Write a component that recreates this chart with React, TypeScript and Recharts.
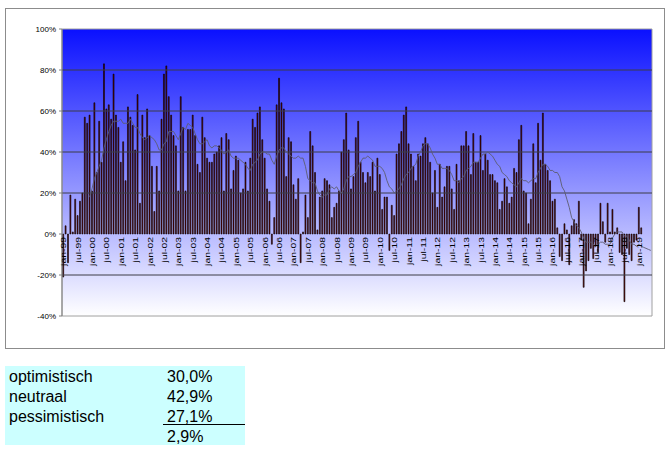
import {
  ComposedChart,
  Bar,
  Line,
  XAxis,
  YAxis,
  ReferenceArea,
  ReferenceLine,
} from "recharts";

// monthly sentiment balance, jan-99 .. mar-19 (percent)
const BALANCE = [
  -21, 4, -14, 19, 1, 17, 9, 16, 20, 57,
  54, 58, 21, 64, 30, 55, 35, 83, 61, 63,
  56, 78, 58, 52, 35, 45, 26, 62, 57, 53,
  41, 68, 15, 58, 47, 61, 48, 33, 11, 33,
  21, 56, 78, 82, 67, 58, 48, 43, 21, 67,
  52, 21, 51, 51, 58, 48, 34, 30, 57, 47,
  37, 35, 35, 39, 40, 43, 47, 21, 49, 46,
  22, 31, 38, 36, 20, 22, 35, 21, 37, 56,
  52, 59, 62, 46, 37, 22, 16, -5, 8, 63,
  76, 64, 61, 28, 47, 45, 24, 17, 27, -14,
  1, 19, 8, 50, 43, 30, 2, 18, 21, 27,
  26, 24, 8, 13, 15, 21, 40, 46, 59, 41,
  22, 28, 47, 55, 35, 30, 25, 30, 28, 35,
  21, 37, 29, 12, 18, 18, -8, 14, 9, 39,
  44, 50, 58, 62, 44, 39, 33, 26, 39, 38,
  44, 47, 44, 35, 20, 31, 13, 34, 18, 23,
  33, 33, 22, 12, 34, 26, 43, 43, 50, 43,
  29, 49, 35, 35, 48, 31, 39, 36, 29, 29,
  26, 25, 12, 16, 27, 23, 15, 18, 32, 30,
  46, 53, 21, 20, 5, 17, 44, 25, 54, 36,
  59, 34, 31, 26, 16, 17, 3, -11, -13, 5,
  2, -15, 4, 7, 5, 16, -3, -26, -18, -13,
  -7, -12, -6, -9, 15, 6, -4, 15, 1, 12,
  1, 3, -9, -10, -33, -7, -10, -13, -4, -3,
  13, 3, null, null, null, null,
];

// smoothed trend line (thin grey), starts dec-99
const TREND = [
  null, null, null, null, null, null, null, null, null, null,
  null, 18, 22, 27, 30, 33, 36, 42, 46, 50,
  53, 55, 55, 55, 56, 54, 54, 54, 56, 54,
  52, 52, 49, 47, 46, 47, 48, 47, 46, 44,
  41, 41, 44, 45, 50, 50, 50, 48, 46, 49,
  52, 51, 54, 53, 52, 49, 46, 44, 44, 45,
  46, 43, 42, 43, 43, 42, 41, 39, 40, 41,
  38, 37, 37, 37, 36, 35, 34, 32, 31, 34,
  35, 36, 39, 40, 40, 39, 39, 36, 34, 38,
  41, 42, 42, 40, 39, 38, 37, 37, 38, 37,
  37, 33, 27, 26, 25, 25, 21, 19, 18, 19,
  19, 22, 23, 22, 23, 21, 20, 22, 26, 28,
  28, 29, 30, 33, 35, 37, 37, 38, 37, 36,
  33, 33, 33, 32, 30, 26, 23, 22, 20, 21,
  22, 24, 27, 29, 30, 32, 33, 34, 38, 40,
  43, 44, 44, 42, 39, 37, 34, 34, 32, 32,
  32, 31, 29, 26, 26, 25, 27, 28, 31, 32,
  33, 35, 35, 35, 37, 39, 39, 40, 39, 38,
  36, 34, 33, 30, 29, 28, 26, 25, 24, 23,
  25, 27, 26, 26, 25, 26, 27, 27, 30, 32,
  34, 34, 33, 31, 31, 30, 30, 28, 23, 21,
  17, 13, 8, 6, 4, 3, 1, -2, -4, -4,
  -4, -5, -6, -5, -4, -4, -5, -5, -5, -2,
  0, 1, 1, 1, -1, -1, -3, -5, -5, -6,
  -5, -6, -6.5, -7, -7.5, -8,
];

const MONTHS = ["jan", "feb", "mrt", "apr", "mei", "jun", "jul", "aug", "sep", "okt", "nov", "dec"];
const START_YEAR = 1999;
const Y_TICKS = [-40, -20, 0, 20, 40, 60, 80, 100];
const GRID_LINES = [-20, 20, 40, 60, 80];

const SUMMARY_LABELS = ["optimistisch", "neutraal", "pessimistisch", ""];
const SUMMARY_VALUES = ["30,0%", "42,9%", "27,1%", "2,9%"];

const data = BALANCE.map((v, i) => {
  const yr = START_YEAR + Math.floor(i / 12);
  return {
    month: `${MONTHS[i % 12]}-${String(yr % 100).padStart(2, "0")}`,
    balance: v,
    trend: TREND[i],
  };
});

const CHART_W = 658;
const CHART_H = 339;
const PLOT_TOP = 20;
const PLOT_H = 287;
const ZERO_OFFSET = (PLOT_H * 40) / 140;
const FONT = "Liberation Sans, Arial, sans-serif";

function MonthTick({ x, y, payload }: any) {
  return (
    <text
      transform={`translate(${x + 3},${y - ZERO_OFFSET + 3}) rotate(-90) scale(1.3,1)`}
      textAnchor="end"
      fontSize={8}
      fontFamily={FONT}
      fill="#000"
    >
      {payload.value}
    </text>
  );
}

export default function App() {
  return (
    <div style={{ position: "absolute", left: 0, top: 0, width: 666, height: 451, background: "#fff", fontFamily: FONT }}>
      <div
        style={{
          position: "absolute",
          left: 5,
          top: 8,
          width: 660,
          height: 341,
          boxSizing: "border-box",
          border: "1px solid #8c8c8c",
        }}
      >
        <ComposedChart
          width={CHART_W}
          height={CHART_H}
          data={data}
          margin={{ top: PLOT_TOP, right: 12, bottom: CHART_H - PLOT_TOP - PLOT_H - 1, left: 6 }}
          barCategoryGap="30%"
        >
          <defs>
            <linearGradient id="plotBg" x1="0" y1="0" x2="0" y2="1">
              <stop offset="0%" stopColor="#0a10ff" />
              <stop offset="100%" stopColor="#ffffff" />
            </linearGradient>
          </defs>
          <XAxis
            dataKey="month"
            interval={5}
            height={1}
            tickSize={0}
            tickMargin={0}
            axisLine={false}
            tickLine={false}
            tick={<MonthTick />}
          />
          <YAxis
            domain={[-40, 100]}
            ticks={Y_TICKS}
            width={50}
            interval={0}
            tickFormatter={(v) => `${v}%`}
            tick={{ fontSize: 8, fill: "#000", fontFamily: FONT }}
            tickSize={3}
            tickMargin={3}
            axisLine={{ stroke: "#808080" }}
            tickLine={{ stroke: "#808080" }}
          />
          <ReferenceArea y1={-40} y2={100} fill="url(#plotBg)" fillOpacity={1} stroke="#a0a0a0" />
          {GRID_LINES.map((g) => (
            <ReferenceLine key={g} y={g} stroke="#3c3c46" strokeWidth={1} />
          ))}
          <Bar dataKey="balance" fill="#700000" stroke="#000" strokeWidth={0.6} isAnimationActive={false} />
          <Line
            type="linear"
            dataKey="trend"
            stroke="#5c5c70"
            strokeWidth={0.9}
            dot={false}
            isAnimationActive={false}
          />
        </ComposedChart>
      </div>

      <div
        style={{
          position: "absolute",
          left: 5,
          top: 366,
          width: 240,
          height: 79,
          background: "#ccffff",
        }}
      >
        {SUMMARY_LABELS.map((label, i) => (
          <div key={i} style={{ position: "absolute", left: 4, top: 1 + i * 20, height: 20, lineHeight: "20px", fontSize: 16 }}>
            {label}
          </div>
        ))}
        {SUMMARY_VALUES.map((val, i) => (
          <div key={i} style={{ position: "absolute", left: 162, top: 1 + i * 20, height: 20, lineHeight: "20px", fontSize: 16 }}>
            {val}
          </div>
        ))}
        <div style={{ position: "absolute", left: 158, top: 58, width: 82, height: 1, background: "#000" }} />
      </div>
    </div>
  );
}
